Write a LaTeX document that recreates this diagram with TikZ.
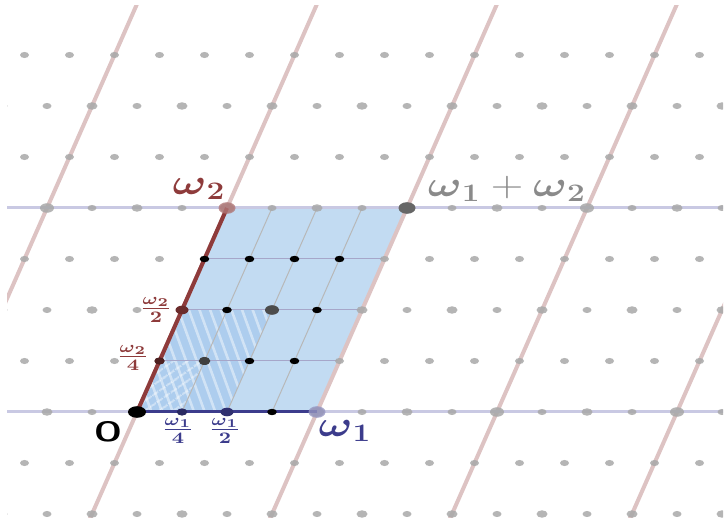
\RequirePackage{fix-cm}
\documentclass[tikz,border=0pt]{standalone}
\usepackage{amsmath,amssymb}
\usepackage{graphicx}
\usepackage{tikz}
\usetikzlibrary{patterns.meta}

\definecolor{wonecol}{HTML}{3C3C8C}
\definecolor{wtwocol}{HTML}{8E3B3B}
\definecolor{cellblue}{HTML}{C2DBF2}
\definecolor{halfblue}{HTML}{ADCDEE}
\definecolor{lavline}{HTML}{C9C9E3}
\definecolor{pinkline}{HTML}{DDC3C3}
\definecolor{sumgray}{HTML}{8A8A8A}

\newcommand{\stretchx}[1]{\scalebox{1.25}[1]{#1}}

\begin{document}
\begin{tikzpicture}[
  x=0.5pt, y=-0.5pt,
  lbl/.style={inner sep=0pt, font=\fontsize{18}{20}\selectfont},
  frac/.style={inner sep=0pt, font=\fontsize{12}{14}\selectfont},
  latline/.style={pinkline, line width=2pt},
  rowline/.style={lavline, line width=1.5pt},
  cellline/.style={black!28, line width=0.5pt},
  kdot/.style={fill=black},
  gdot/.style={fill=black!34, fill opacity=0.85}
]
\useasboundingbox (0,0) rectangle (726,522);
\clip (7,6) rectangle (723,517);

% corners of the cell
\coordinate (O) at (137,412);
\coordinate (w1) at (317,412);
\coordinate (w2) at (227,208);
\coordinate (w12) at (407,208);
\coordinate (q1) at (182,412);
\coordinate (h1) at (227,412);
\coordinate (q2) at (159.5,361);
\coordinate (h2) at (182,310);
\coordinate (q12) at (204.5,361);
\coordinate (h12) at (272,310);

% fundamental cell
\fill[cellblue] (O) -- (w1) -- (w12) -- (w2) -- cycle;
\fill[halfblue] (O) -- (h1) -- (h12) -- (h2) -- cycle;
\fill[pattern={Lines[angle=110,distance=5pt,line width=1.3pt]}, pattern color=white, opacity=0.45]
  (O) -- (h1) -- (h12) -- (h2) -- cycle;
\fill[pattern={Lines[angle=35,distance=4pt,line width=1pt]}, pattern color=white, opacity=0.45]
  (O) -- (q1) -- (q12) -- (q2) -- cycle;
\foreach \k in {1,2,3} {
  \draw[cellline, blue!40!black!35] (137+22.5*\k,412-51*\k) -- ++(180,0);
  \draw[cellline] (137+45*\k,412) -- ++(90,-204);
}

% lattice lines
\foreach \k in {-1,...,3}
  \draw[latline] (137+180*\k-135,718) -- ++(450,-1020);
\foreach \y in {208,412}
  \draw[rowline] (0,\y) -- (726,\y);

% quarter-period points
\foreach \j in {-2,...,7} {
  \foreach \i in {-8,...,16} {
    \pgfmathtruncatemacro\isLat{and(mod(\i,4)==0,mod(\j,4)==0)}
    \pgfmathtruncatemacro\isHalf{and(mod(\i,2)==0,mod(\j,2)==0)}
    \pgfmathsetmacro\rx{ifthenelse(\isLat,7,ifthenelse(\isHalf,5.5,4.5))}
    \fill[gdot] (137+45*\i+22.5*\j,412-51*\j) ellipse[x radius=\rx, y radius=0.68*\rx];
  }
}

% edges
\draw[wtwocol, line width=2pt] (O) -- (w2);
\draw[wonecol, line width=1.5pt] (O) -- (w1);

% points inside the cell
\foreach \i in {0,...,3}
  \foreach \j in {0,...,3}
    \fill[kdot] (137+45*\i+22.5*\j,412-51*\j) ellipse[x radius=4.8, y radius=3.2];
\fill[black] (O) ellipse[x radius=9, y radius=5.8];
\fill[wonecol!70!black] (q1) ellipse[x radius=5.2, y radius=3.6];
\fill[wonecol!80!black] (h1) ellipse[x radius=6.5, y radius=4.3];
\fill[wonecol!55, fill opacity=0.8] (w1) ellipse[x radius=8.5, y radius=5.8];
\fill[wtwocol!55!black] (q2) ellipse[x radius=5.2, y radius=3.6];
\fill[wtwocol!75!black] (h2) ellipse[x radius=6.5, y radius=4.3];
\fill[wtwocol!70, fill opacity=0.8] (w2) ellipse[x radius=8.5, y radius=5.8];
\fill[black!75] (q12) ellipse[x radius=5.8, y radius=4];
\fill[black!70] (h12) ellipse[x radius=7, y radius=4.8];
\fill[black!60] (w12) ellipse[x radius=8.5, y radius=5.8];

% labels
\node[lbl, text=wtwocol] (lw2) at (199,189) {\stretchx{$\boldsymbol{\omega}_{\mathbf 2}$}};
\node[lbl, text=sumgray] (lw12) at (507,189) {\stretchx{$\boldsymbol{\omega}_{\mathbf 1}+\boldsymbol{\omega}_{\mathbf 2}$}};
\node[lbl, text=wonecol] (lw1) at (345,431) {\stretchx{$\boldsymbol{\omega}_{\mathbf 1}$}};
\node[lbl, font=\fontsize{14}{16}\selectfont\sffamily\bfseries] (lO) at (108,432) {\stretchx{O}};
\node[frac, text=wonecol] (lq1) at (178,431) {\stretchx{$\frac{\boldsymbol{\omega}_{\mathbf 1}}{\mathbf 4}$}};
\node[frac, text=wonecol] (lh1) at (225,431) {\stretchx{$\frac{\boldsymbol{\omega}_{\mathbf 1}}{\mathbf 2}$}};
\node[frac, text=wtwocol] (lq2) at (133,358) {\stretchx{$\frac{\boldsymbol{\omega}_{\mathbf 2}}{\mathbf 4}$}};
\node[frac, text=wtwocol] (lh2) at (156,310) {\stretchx{$\frac{\boldsymbol{\omega}_{\mathbf 2}}{\mathbf 2}$}};
\end{tikzpicture}
\end{document}
